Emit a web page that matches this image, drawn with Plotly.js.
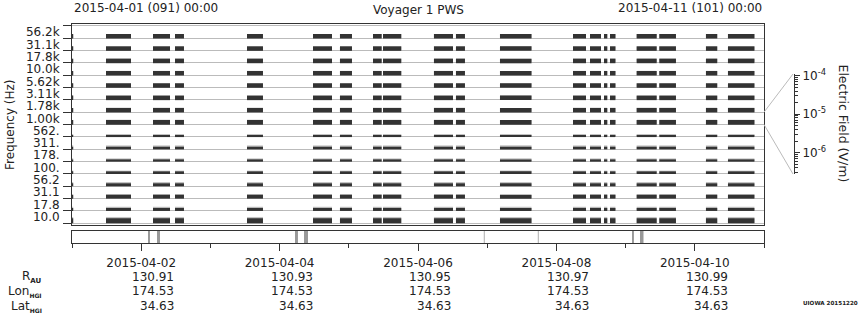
<!DOCTYPE html>
<html>
<head>
<meta charset="utf-8">
<script src="https://cdn.plot.ly/plotly-3.0.1.min.js"></script>
<style>html,body{margin:0;padding:0;background:#fff;}#chart{width:860px;height:320px;}</style>
</head>
<body>
<div id="chart"></div>
<script>
// ---- data ----
const channelLabels = ['10.0','17.8','31.1','56.2','100.','178.','311.','562.','1.00k','1.78k','3.11k','5.62k','10.0k','17.8k','31.1k','56.2k'];
// typical (dark) and peak (light) electric field per channel, V/m
const eMean = [3.2e-6,1.2e-6,1.95e-6,1.2e-6,1.0e-6,8.5e-7,1.0e-6,8.5e-7,2.9e-6,2.5e-6,2.5e-6,2.5e-6,2.5e-6,2.5e-6,2.5e-6,2.5e-6];
const ePeak = [6.0e-6,2.15e-6,1.95e-6,2.25e-6,1.45e-6,1.4e-6,1.95e-6,8.5e-7,2.9e-6,2.5e-6,2.5e-6,2.5e-6,2.5e-6,2.5e-6,2.5e-6,2.5e-6];
// data segments (UTC)
const segStart = ['2015-04-01 00:00','2015-04-01 11:47','2015-04-02 04:05','2015-04-02 11:43','2015-04-03 12:41','2015-04-04 11:35','2015-04-04 20:56','2015-04-05 08:23','2015-04-05 11:51','2015-04-06 05:32','2015-04-06 13:10','2015-04-07 04:26','2015-04-08 05:45','2015-04-08 11:39','2015-04-08 16:30','2015-04-08 18:35','2015-04-09 03:50','2015-04-09 11:41','2015-04-10 03:52','2015-04-10 11:30'];
const segEnd   = ['2015-04-01 00:25','2015-04-01 20:28','2015-04-02 10:00','2015-04-02 14:50','2015-04-03 18:14','2015-04-04 18:10','2015-04-05 01:06','2015-04-05 11:24','2015-04-05 18:12','2015-04-06 12:08','2015-04-06 16:17','2015-04-07 15:22','2015-04-08 10:16','2015-04-08 15:28','2015-04-08 17:39','2015-04-08 20:29','2015-04-09 10:47','2015-04-09 17:28','2015-04-10 07:47','2015-04-10 20:41'];
// marks in the lower strip: centre time and width (minutes)
const markTime = ['2015-04-02 02:42','2015-04-02 06:00','2015-04-04 05:51','2015-04-04 09:09','2015-04-06 22:59','2015-04-07 17:43','2015-04-09 02:33','2015-04-09 05:36'];
const markWidthMin = [41,62,62,83,20,20,41,73];
const markColor = ['#999','#999','#999','#999','#aaa','#aaa','#999','#999'];
// ephemeris
const tickDates = ['2015-04-02','2015-04-04','2015-04-06','2015-04-08','2015-04-10'];
const rAU = ['130.91','130.93','130.95','130.97','130.99'];
const lonHGI = ['174.53','174.53','174.53','174.53','174.53'];
const latHGI = ['34.63','34.63','34.63','34.63','34.63'];
// colour-scale axis
const eTickVals = [1e-6,1e-5,1e-4];
const eTickText = ['10<sup>-6</sup>','10<sup>-5</sup>','10<sup>-4</sup>'];

// ---- layout helpers ----
const FONT = 'DejaVu Sans';
const TXT = '#222';
const LOGLO = -6.56, LOGHI = -3.95;
const toMs = s => Date.parse(s.replace(' ','T') + ':00Z');
const px = x => (x - 72) / 778;
const py = y => (243 - y) / 219;

function layerTrace(levels, color){
  const ys=[], ws=[], bases=[], lens=[];
  for(let k=0;k<channelLabels.length;k++){
    const h = (Math.log10(levels[k]) - LOGLO) / (LOGHI - LOGLO);
    for(let i=0;i<segStart.length;i++){
      ys.push(k + h/2 - 0.02); ws.push(h);
      bases.push(segStart[i]); lens.push(toMs(segEnd[i]) - toMs(segStart[i]));
    }
  }
  return {type:'bar', orientation:'h', x:lens, base:bases, y:ys, width:ws,
    marker:{color:color, line:{width:0}}, xaxis:'x', yaxis:'y', hoverinfo:'skip', showlegend:false};
}

const traces = [
  layerTrace(ePeak, '#c4c4c4'),
  layerTrace(eMean, '#333333'),
  {type:'bar', x:markTime, y:markTime.map(()=>1), base:0, width:markWidthMin.map(m=>m*60000),
   marker:{color:markColor, line:{width:0}}, xaxis:'x2', yaxis:'y2', hoverinfo:'skip', showlegend:false},
  {type:'scatter', mode:'markers', x:['2015-04-05'], y:[8], marker:{opacity:0}, xaxis:'x', yaxis:'y3', hoverinfo:'skip', showlegend:false},
  {type:'scatter', mode:'markers', x:['2015-04-05'], y:[1e-5], marker:{opacity:0}, xaxis:'x', yaxis:'y4', hoverinfo:'skip', showlegend:false}
];

const ann = [];
const af = (size, extra) => Object.assign({family:FONT, size:size, color:TXT}, extra||{});
ann.push({text:'2015-04-01 (091) 00:00', xref:'paper', yref:'paper', x:px(72), y:py(8.3), xanchor:'left', yanchor:'middle', showarrow:false, font:af(12)});
ann.push({text:'2015-04-11 (101) 00:00', xref:'paper', yref:'paper', x:px(764), y:py(8.3), xanchor:'right', yanchor:'middle', showarrow:false, font:af(12)});
ann.push({text:'Voyager 1 PWS', xref:'paper', yref:'paper', x:px(418), y:py(10.5), xanchor:'center', yanchor:'middle', showarrow:false, font:af(12)});
ann.push({text:'Frequency (Hz)', xref:'paper', yref:'paper', x:px(10), y:py(125), xanchor:'center', yanchor:'middle', textangle:-90, showarrow:false, font:af(12)});
ann.push({text:'Electric Field (V/m)', xref:'paper', yref:'paper', x:px(843), y:py(123.5), xanchor:'center', yanchor:'middle', textangle:90, showarrow:false, font:af(12.5)});
ann.push({text:'<b>UIOWA 20151220</b>', xref:'paper', yref:'paper', x:px(860), y:py(303), xanchor:'right', yanchor:'middle', showarrow:false, font:af(5.6)});
const rowY = [py(277.3), py(291.3), py(306)];
const rowLab = ['R<sub><span style="font-size:7px;font-weight:bold">AU</span></sub>',
                'Lon<sub><span style="font-size:6px;font-weight:bold">HGI</span></sub>',
                'Lat<sub><span style="font-size:6px;font-weight:bold">HGI</span></sub>'];
const rowVals = [rAU, lonHGI, latHGI];
for(let r=0;r<3;r++){
  ann.push({text:rowLab[r], xref:'paper', yref:'paper', x:px(44), y:rowY[r], xanchor:'right', yanchor:'middle', showarrow:false, font:af(12)});
  for(let i=0;i<tickDates.length;i++){
    ann.push({text:rowVals[r][i], xref:'x', yref:'paper', x:tickDates[i], xshift:35, y:rowY[r], xanchor:'right', yanchor:'middle', showarrow:false, font:af(12)});
  }
}

const bounds = []; for(let k=0;k<=channelLabels.length;k++) bounds.push(k);
const centers = channelLabels.map((_,k)=>k+0.5);
const minorE = [];
for(const d of [-7,-6,-5]) for(let m=2;m<=9;m++){ const v=m*Math.pow(10,d); if(Math.log10(v)>LOGLO) minorE.push(v); }

const layout = {
  width:860, height:320,
  margin:{l:72, r:10, t:24, b:77},
  paper_bgcolor:'#fff', plot_bgcolor:'rgba(0,0,0,0)',
  showlegend:false, barmode:'overlay',
  font:{family:FONT, size:12, color:TXT},
  xaxis:{domain:[0,692/778], type:'date', range:['2015-04-01','2015-04-11'], anchor:'y',
    showticklabels:false, ticks:'', showgrid:false, zeroline:false,
    showline:true, mirror:true, linecolor:'#333', linewidth:1},
  yaxis:{domain:[py(225),1], range:[-0.16,16.16], anchor:'x', tickmode:'array', tickvals:bounds,
    ticktext:bounds.map(()=>''), ticks:'outside', ticklen:8, tickcolor:'#333', tickwidth:1,
    showgrid:true, gridcolor:'#bbb', gridwidth:1, zeroline:false,
    showline:true, mirror:true, linecolor:'#333', linewidth:1},
  yaxis3:{overlaying:'y', anchor:'x', side:'left', range:[-0.16,16.16], tickmode:'array', tickvals:centers,
    ticktext:channelLabels, ticks:'outside', ticklen:9, tickcolor:'rgba(0,0,0,0)',
    showgrid:false, zeroline:false, showline:false, tickfont:{family:FONT,size:12,color:TXT}},
  xaxis2:{domain:[0,692/778], type:'date', matches:'x', anchor:'y2',
    tickmode:'linear', tick0:'2015-04-02', dtick:172800000, tickformat:'%Y-%m-%d',
    ticks:'outside', ticklen:7, tickcolor:'#333', tickwidth:1, ticklabelstandoff:2,
    minor:{tick0:'2015-04-01', dtick:86400000, ticks:'outside', ticklen:4, tickcolor:'#333', showgrid:false},
    showgrid:false, zeroline:false, showline:true, mirror:true, linecolor:'#333', linewidth:1,
    tickfont:{family:FONT,size:12,color:TXT}},
  yaxis2:{domain:[0,py(231)], range:[0,1], anchor:'x2', showticklabels:false, ticks:'',
    showgrid:false, zeroline:false, showline:true, mirror:true, linecolor:'#333', linewidth:1},
  yaxis4:{domain:[py(174),py(74)], type:'log', range:[LOGLO,LOGHI], anchor:'free', position:px(794), side:'right',
    tickmode:'array', tickvals:eTickVals, ticktext:eTickText, ticks:'outside', ticklen:5, tickcolor:'#333',
    minor:{tickmode:'array', tickvals:minorE, ticks:'outside', ticklen:2.5, tickcolor:'#333', showgrid:false},
    showgrid:false, zeroline:false, showline:true, linecolor:'#333', linewidth:1,
    tickfont:{family:FONT,size:12,color:TXT}},
  shapes:[
    {type:'line', xref:'paper', yref:'paper', x0:px(764), y0:py(112.2), x1:px(793), y1:py(74), line:{color:'#bbb', width:1}},
    {type:'line', xref:'paper', yref:'paper', x0:px(764), y0:py(124.5), x1:px(793), y1:py(174), line:{color:'#bbb', width:1}}
  ],
  annotations:ann
};

Plotly.newPlot('chart', traces, layout, {staticPlot:true, displayModeBar:false});
</script>
</body>
</html>
